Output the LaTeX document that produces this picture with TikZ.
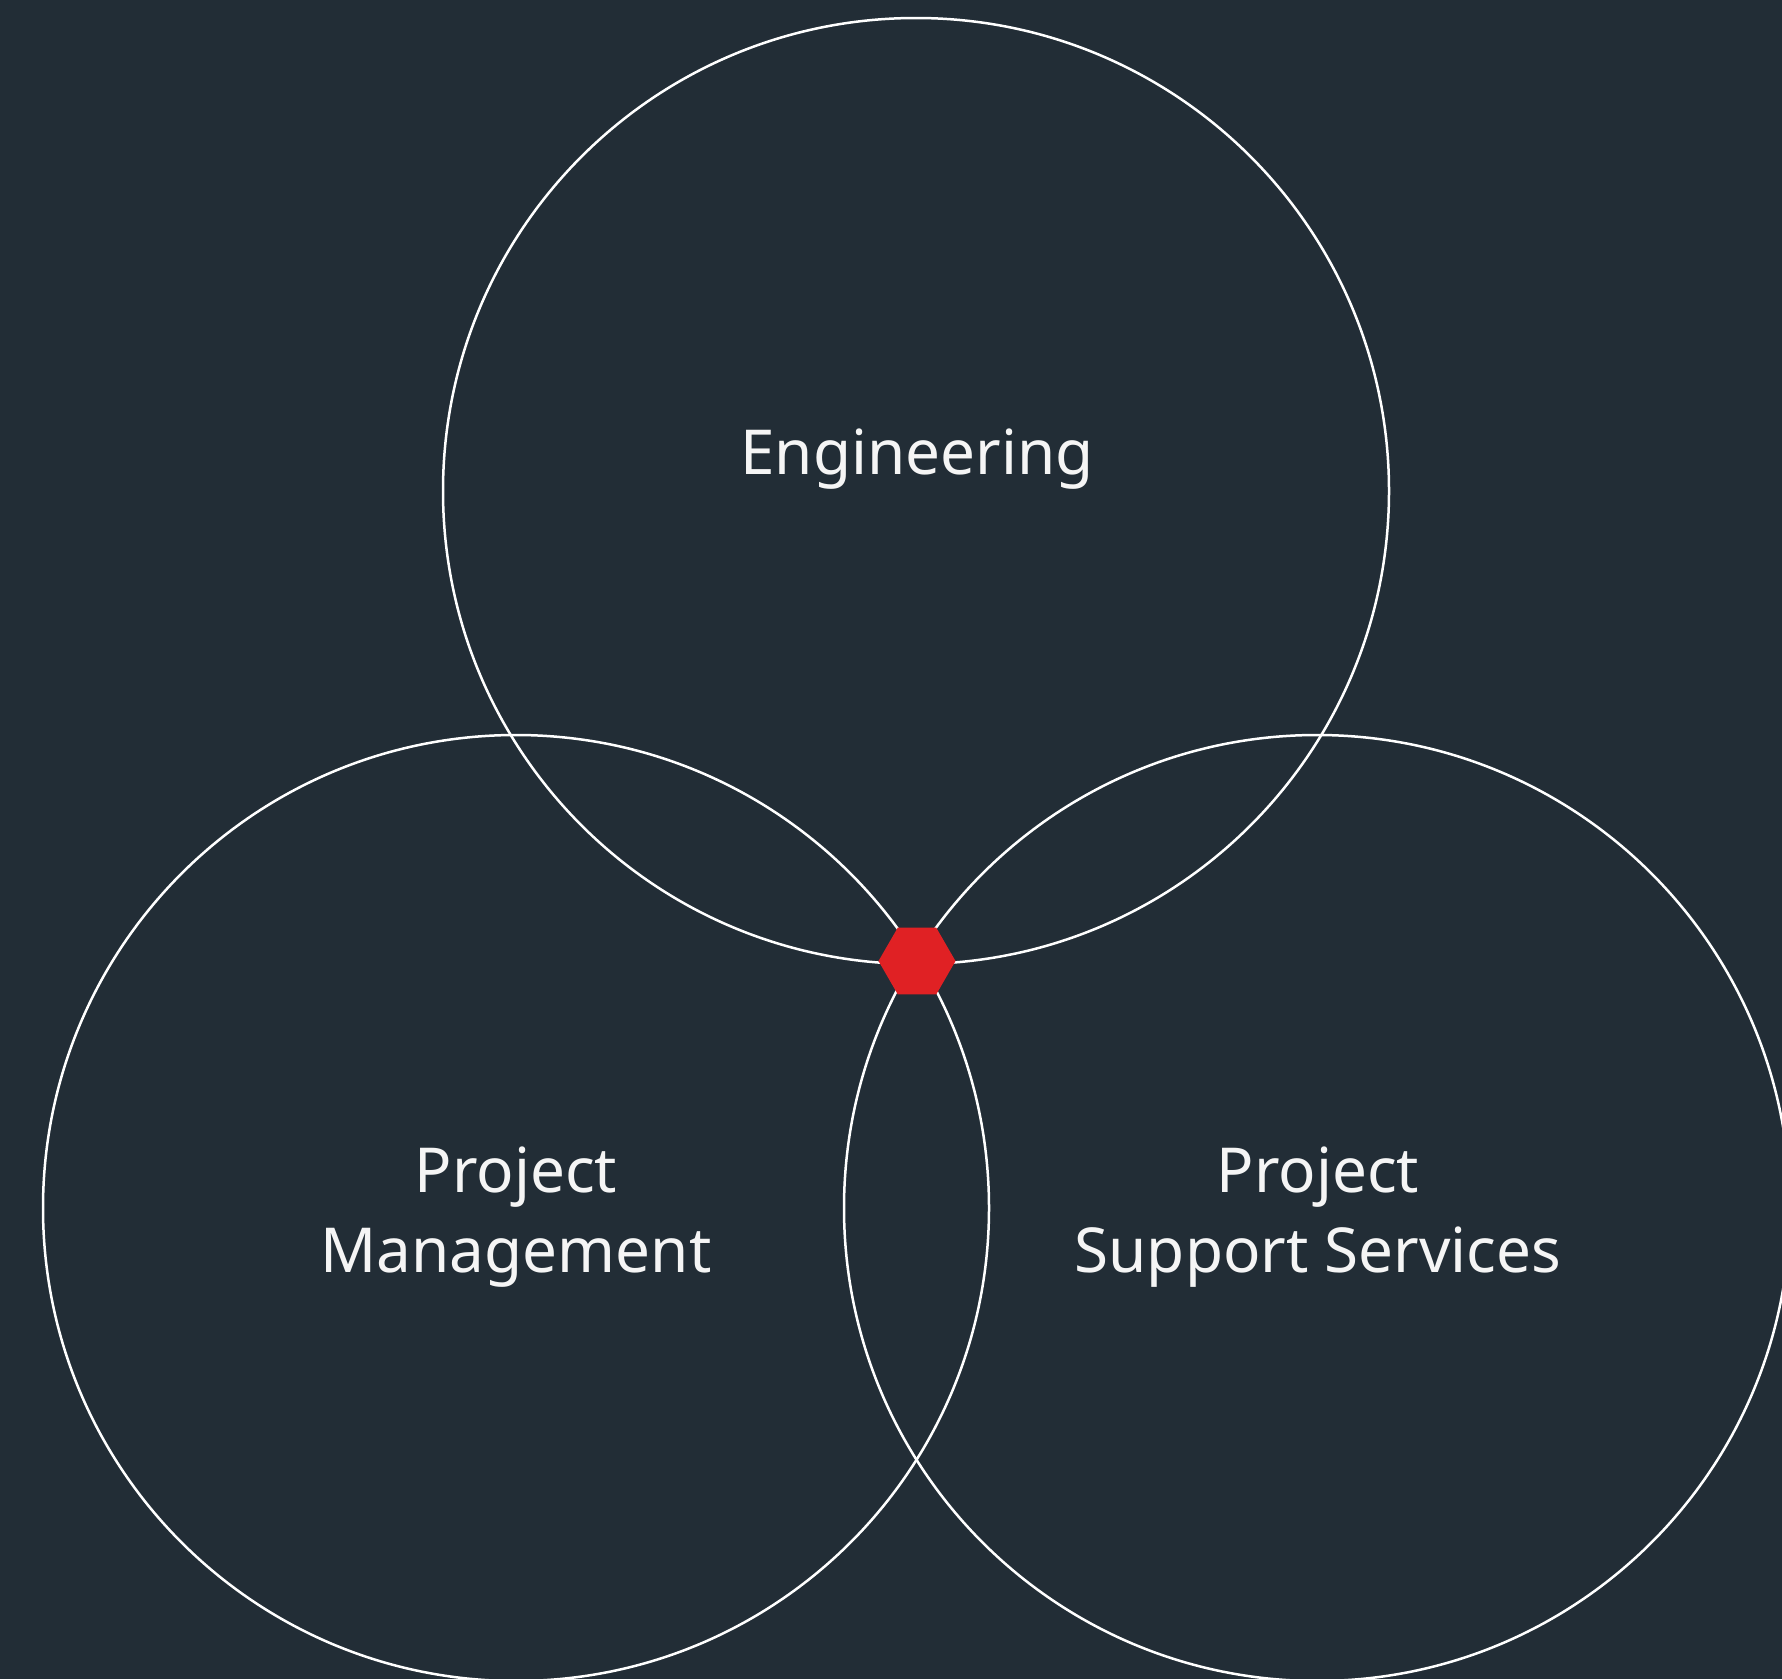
\documentclass[tikz,border=0pt]{standalone}
\usepackage{fontspec}
\setmainfont{Noto Sans}
\usetikzlibrary{shapes.geometric}

\definecolor{bgdark}{HTML}{222D36}
\definecolor{corered}{HTML}{E02124}
\definecolor{labelwhite}{HTML}{F5F5F5}

\tikzset{
  ring/.style={circle, draw=white, line width=2.5pt, minimum size=946pt, inner sep=0pt},
  core/.style={regular polygon, regular polygon sides=6, fill=corered, minimum size=77pt, inner sep=0pt},
  area/.style={text=labelwhite, font=\fontsize{62}{80}\selectfont, align=center, inner sep=0pt}
}

\begin{document}
\begin{tikzpicture}[x=1pt, y=-1pt]
          \fill[bgdark] (0,0) rectangle (1782,1679);
          \useasboundingbox (0,0) rectangle (1782,1679);
          \clip (0,0) rectangle (1782,1679);
          \node[ring] (eng) at (916,491) {};
          \node[ring] (pm) at (516,1208) {};
          \node[ring] (pss) at (1317,1208) {};
          \node[core] (hub) at (917,961) {};
          \node[area, anchor=base] (englabel) at (917,474) {Engineering};
          \node[area, anchor=base] (pmlabel) at (516,1272) {Project\\Management};
          \node[area, anchor=base] (psslabel) at (1318,1272) {Project\\Support Services};
        \end{tikzpicture}
\end{document}
